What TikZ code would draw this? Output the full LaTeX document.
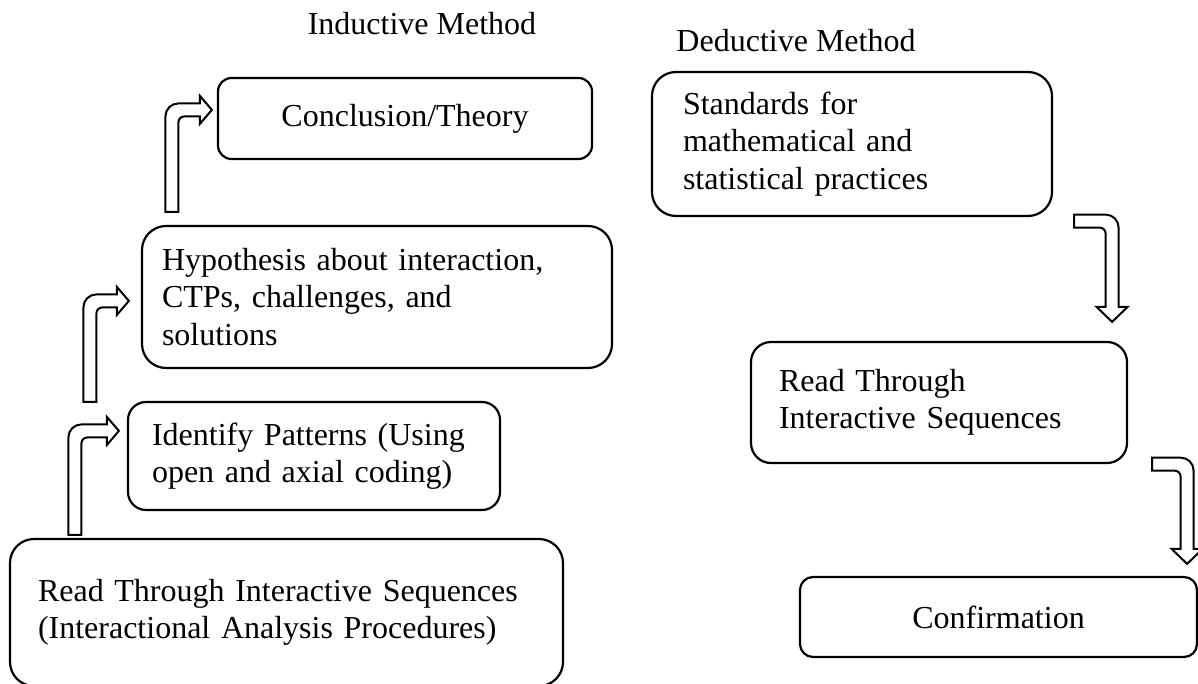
\documentclass[tikz,border=0pt]{standalone}
\usepackage{fontspec}
\setmainfont{Liberation Serif}
\usetikzlibrary{calc}

\newcommand\boxfont{\fontsize{16}{18.75}\selectfont}

\tikzset{
  x=0.5pt, y=-0.5pt,
  box/.style={draw, line width=1.1pt, inner ysep=0pt, font=\boxfont},
  lbox/.style={box, align=left},
  cbox/.style={box, align=center, inner xsep=0pt},
  heading/.style={font=\boxfont, inner sep=0pt, anchor=base},
  blockarrow/.style={draw, line width=1pt, fill=white, line join=miter},
}

% hollow arrow: shaft rises from #1, turns right and points at #2
\newcommand\bentUpArrow[2]{%
  \draw[blockarrow] let \p1=(#1), \p2=(#2) in
    (\x1-3.25pt,\y1) -- (\x1-3.25pt,\y2-3.25pt)
    arc[start angle=180, end angle=90, radius=6.5pt]
    -- (\x2-6pt,\y2+3.25pt) -- (\x2-6pt,\y2+7pt) -- (\x2,\y2)
    -- (\x2-6pt,\y2-7pt) -- (\x2-6pt,\y2-3.25pt)
    -- (\x1+6.25pt,\y2-3.25pt)
    arc[start angle=90, end angle=180, radius=3pt]
    -- (\x1+3.25pt,\y1) -- cycle;}

% hollow arrow: arm runs right from #1, turns down and points at #2
\newcommand\bentDownArrow[2]{%
  \draw[blockarrow] let \p1=(#1), \p2=(#2) in
    (\x1,\y1+3.25pt) -- (\x2-3.25pt,\y1+3.25pt)
    arc[start angle=90, end angle=0, radius=6.5pt]
    -- (\x2+3.25pt,\y2+7.5pt) -- (\x2+7.75pt,\y2+7.5pt) -- (\x2,\y2)
    -- (\x2-7.75pt,\y2+7.5pt) -- (\x2-3.25pt,\y2+7.5pt)
    -- (\x2-3.25pt,\y1-6.25pt)
    arc[start angle=0, end angle=90, radius=3pt]
    -- (\x1,\y1-3.25pt) -- cycle;}

\begin{document}
\begin{tikzpicture}
\useasboundingbox (0,0) rectangle (1198,684);

% headings
\node[heading] (indtitle) at (422,35) {Inductive Method};
\node[heading] (dedtitle) at (796,52) {Deductive Method};

% inductive chain
\node[lbox, rounded corners=12pt, minimum width=276.5pt, minimum height=73.5pt,
      inner xsep=14pt, text width=248.5pt] (readA) at (286.5,612.5)
  {Read Through Interactive Sequences\\(Interactional Analysis Procedures)};
\node[lbox, rounded corners=9pt, minimum width=186pt, minimum height=54pt,
      inner xsep=12pt, text width=162pt] (ident) at (314,456)
  {Identify Patterns (Using\\open and axial coding)};
\node[lbox, rounded corners=12pt, minimum width=235pt, minimum height=71pt,
      inner xsep=10pt, text width=215pt] (hypo) at (377,297)
  {Hypothesis about interaction,\\CTPs, challenges, and\\solutions};
\node[cbox, rounded corners=6.75pt, minimum width=187pt, minimum height=40.5pt] (concl) at (405,118.5)
  {Conclusion/Theory};

% deductive chain
\node[lbox, rounded corners=12pt, minimum width=200pt, minimum height=72pt,
      inner xsep=15.5pt, text width=169pt] (stand) at (852,144)
  {Standards for\\mathematical and\\statistical practices};
\node[lbox, rounded corners=10pt, minimum width=188pt, minimum height=60.5pt,
      inner xsep=14pt, text width=160pt] (readB) at (939,402.5)
  {Read Through\\Interactive Sequences};
\node[cbox, rounded corners=6.5pt, minimum width=198.5pt, minimum height=40pt] (confirm) at (998.5,617)
  {Confirmation};

% arrow end points
\coordinate (a1foot) at ($(readA.north west)+(66,-3)$);
\coordinate (a1tip)  at ($(ident.north west)+(-8,30)$);
\coordinate (a2foot) at ($(ident.north west)+(-37,1)$);
\coordinate (a2tip)  at ($(hypo.north west)+(-12,76)$);
\coordinate (a3foot) at ($(hypo.north west)+(31,-13)$);
\coordinate (a3tip)  at ($(concl.north west)+(-5,33)$);
\coordinate (a4tail) at ($(stand.south east)+(21,4)$);
\coordinate (a4tip)  at ($(readB.north east)+(-16,-19)$);
\coordinate (a5tail) at ($(readB.south east)+(24,0)$);
\coordinate (a5tip)  at ($(confirm.north east)+(-11,-12)$);

\bentUpArrow{a1foot}{a1tip}
\bentUpArrow{a2foot}{a2tip}
\bentUpArrow{a3foot}{a3tip}
\bentDownArrow{a4tail}{a4tip}
\bentDownArrow{a5tail}{a5tip}
\end{tikzpicture}
\end{document}
